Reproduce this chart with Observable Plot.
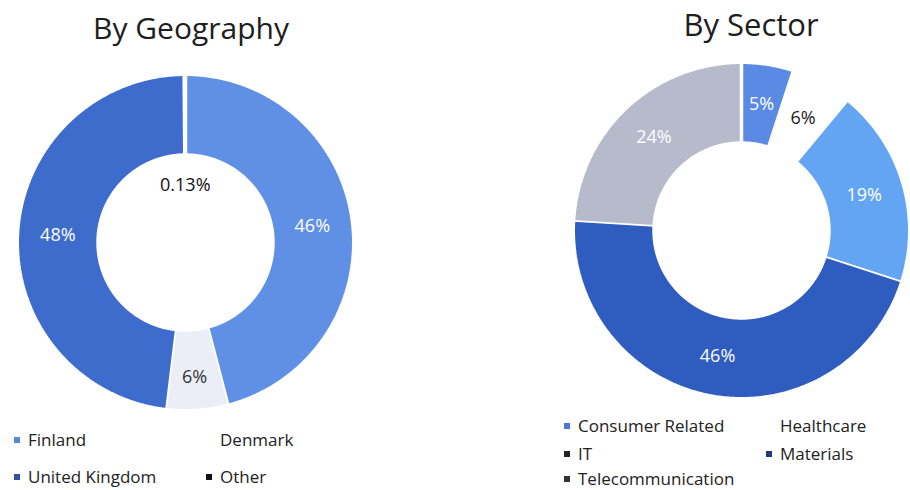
<!DOCTYPE html>
<html>
<head>
<meta charset="utf-8">
<script src="https://cdn.jsdelivr.net/npm/d3@7"></script>
<script src="https://cdn.jsdelivr.net/npm/@observablehq/plot@0.6"></script>
<style>
  html, body { margin: 0; padding: 0; background: #fff; }
  body { width: 910px; height: 490px; overflow: hidden; position: relative; font-family: "Open Sans", Lato, sans-serif; color: #222; }
  .title { position: absolute; color: #1e1e1e; white-space: nowrap; transform: translateX(-50%); }
  .chart { position: absolute; width: 360px; height: 360px; overflow: visible; }
  .chart svg { max-width: none !important; }
  .legend { position: absolute; font-size: 17px; color: #222; }
  .item { position: absolute; white-space: nowrap; line-height: 20px; }
  .sw { display: inline-block; width: 6px; height: 6px; margin-right: 8px; vertical-align: middle; position: relative; top: -1px; }
</style>
</head>
<body>
<div class="title" style="left:191px; top:7px; font-size:30px;">By Geography</div>
<div class="title" style="left:751px; top:3px; font-size:31px;">By Sector</div>
<div id="geo" class="chart" style="left:5px; top:62px;"></div>
<div id="sec" class="chart" style="left:561px; top:50px;"></div>
<div id="geoLegend" class="legend"></div>
<div id="secLegend" class="legend"></div>
<script>
// ---- Data ----
const geoCategories = ["Finland", "Denmark", "United Kingdom", "Other"];
const geoValues = [46, 6, 48, 0.13];
const geoLabels = ["46%", "6%", "48%", "0.13%"];
const geoColors = ["#5f90e6", "#eceef7", "#3e6ccc", "#ffffff"];
const geoLabelColors = ["#ffffff", "#333333", "#ffffff", "#111111"];
const geoLegendColors = ["#5b86d8", "#ffffff", "#2f54a6", "#111111"];

const secCategories = ["Consumer Related", "Healthcare", "IT", "Materials", "Telecommunication"];
const secValues = [5, 6, 19, 46, 24];
const secLabels = ["5%", "6%", "19%", "46%", "24%"];
const secColors = ["#5a8ae4", "#ffffff", "#64a5f3", "#2f5cbf", "#b6bacb"];
const secLabelColors = ["#ffffff", "#222222", "#ffffff", "#ffffff", "#ffffff"];
const secLegendColors = ["#4a78d8", "#ffffff", "#222222", "#1f3a78", "#333333"];

// ---- Donut builder ----
function donut(cats, vals, labels, colors, labelColors, opts) {
  const inner = 0.52, outer = 1;
  const pie = d3.pie().sort(null).value(d => d)(vals);
  const pts = [];
  const lbl = [];
  pie.forEach((p, i) => {
    const a0 = p.startAngle, a1 = p.endAngle;
    const n = Math.max(2, Math.ceil((a1 - a0) / 0.01));
    for (let k = 0; k <= n; k++) {
      const a = a0 + (a1 - a0) * k / n;
      pts.push({cat: cats[i], x: outer * Math.sin(a), y: outer * Math.cos(a)});
    }
    for (let k = n; k >= 0; k--) {
      const a = a0 + (a1 - a0) * k / n;
      pts.push({cat: cats[i], x: inner * Math.sin(a), y: inner * Math.cos(a)});
    }
    const r = (opts.labelRadius && opts.labelRadius[i]) || 0.76;
    const m = (a0 + a1) / 2;
    lbl.push({cat: cats[i], label: labels[i], x: r * Math.sin(m), y: r * Math.cos(m), color: labelColors[i]});
  });
  const lim = 1.07;
  return Plot.plot({
    width: 360, height: 360, margin: 0,
    x: {domain: [-lim, lim], axis: null},
    y: {domain: [-lim, lim], axis: null},
    color: {domain: cats, range: colors},
    marks: [
      Plot.line(pts, {x: "x", y: "y", z: "cat", fill: "cat", stroke: "#ffffff", strokeWidth: 3.5, strokeLinejoin: "miter", curve: "linear"}),
      Plot.text(lbl, {x: "x", y: "y", text: "label", fill: d => d.color, fontSize: 18, fontFamily: "Open Sans, Lato, sans-serif"})
    ]
  });
}

document.getElementById("geo").appendChild(
  donut(geoCategories, geoValues, geoLabels, geoColors, geoLabelColors, {labelRadius: [0.76, 0.8, 0.76, 0.34]})
);
document.getElementById("sec").appendChild(
  donut(secCategories, secValues, secLabels, secColors, secLabelColors, {})
);

// ---- Legends ----
function legend(el, cats, colors, positions) {
  cats.forEach((c, i) => {
    const d = document.createElement("div");
    d.className = "item";
    d.style.left = positions[i][0] + "px";
    d.style.top = positions[i][1] + "px";
    d.innerHTML = `<span class="sw" style="background:${colors[i]}"></span>${c}`;
    el.appendChild(d);
  });
}
legend(document.getElementById("geoLegend"), geoCategories, geoLegendColors,
  [[14, 430], [206, 430], [14, 467], [206, 467]]);
legend(document.getElementById("secLegend"), secCategories, secLegendColors,
  [[564, 416], [766, 416], [564, 444], [766, 444], [564, 469]]);
</script>
</body>
</html>
